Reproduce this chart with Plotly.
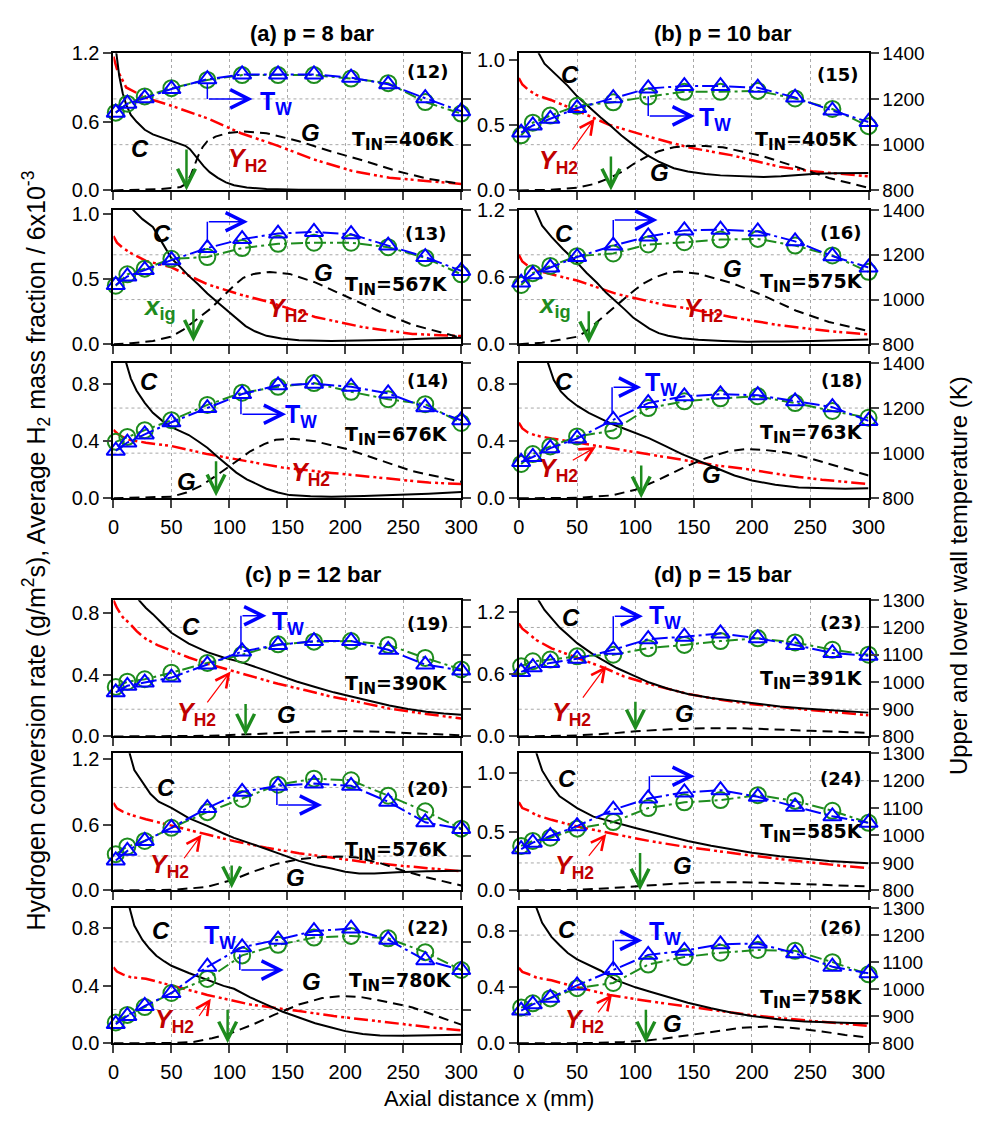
import plotly.graph_objects as go

# ------------------------------------------------------------------ data
X_T = [2, 12, 27, 50, 81, 111, 142, 173, 205, 237, 269, 300]
X_TICKS = [0, 50, 100, 150, 200, 250, 300]

# (12)  p = 8 bar
C12_X = [1, 2.5, 5, 8, 11, 15, 20, 27, 34, 42, 50, 57, 62, 66, 70, 74, 78, 83, 90, 97, 104, 115, 132, 160, 200, 250, 300]
C12_V = [1.6, 1.2, 1.0, 0.85, 0.75, 0.66, 0.6, 0.53, 0.49, 0.46, 0.43, 0.41, 0.39, 0.36, 0.31, 0.26, 0.21, 0.16, 0.11, 0.07, 0.045, 0.025, 0.012, 0.006, 0.004, 0.003, 0.003]
G12_X = [0, 20, 40, 50, 58, 63, 67, 70, 73, 77, 81, 88, 98, 112, 132, 160, 188, 216, 244, 272, 300]
G12_V = [0, 0.003, 0.012, 0.02, 0.03, 0.06, 0.14, 0.22, 0.3, 0.38, 0.43, 0.47, 0.5, 0.515, 0.5, 0.43, 0.34, 0.26, 0.17, 0.1, 0.057]
Y12_X = [0, 3, 11, 28, 50, 81, 110, 142, 173, 206, 238, 270, 300]
Y12_V = [1.17, 1.06, 0.9, 0.81, 0.74, 0.63, 0.5, 0.39, 0.27, 0.17, 0.11, 0.086, 0.057]
TU12 = [1140, 1179, 1203, 1243, 1286, 1307, 1307, 1307, 1293, 1264, 1203, 1146]
TL12 = [1140, 1179, 1211, 1247, 1283, 1304, 1304, 1304, 1289, 1269, 1186, 1136]

# (15)  p = 10 bar
C15_X = [10, 17, 22, 28, 35, 42, 50, 61, 70, 78, 88, 98, 110, 120, 133, 145, 160, 173, 190, 210, 225, 238, 255, 270, 300]
C15_V = [1.25, 1.05, 0.97, 0.92, 0.86, 0.8, 0.72, 0.63, 0.56, 0.5, 0.42, 0.35, 0.27, 0.22, 0.17, 0.145, 0.125, 0.115, 0.108, 0.103, 0.108, 0.118, 0.128, 0.132, 0.133]
G15_X = [0, 25, 50, 65, 78, 90, 98, 110, 120, 133, 145, 160, 175, 190, 210, 238, 266, 300]
G15_V = [0, 0.004, 0.02, 0.05, 0.095, 0.15, 0.2, 0.26, 0.3, 0.33, 0.34, 0.34, 0.33, 0.3, 0.26, 0.18, 0.095, 0.02]
Y15_X = [0, 3, 8, 15, 28, 50, 78, 112, 145, 182, 224, 252, 300]
Y15_V = [0.86, 0.81, 0.77, 0.73, 0.69, 0.61, 0.5, 0.41, 0.33, 0.27, 0.18, 0.146, 0.108]
TU15 = [1053, 1084, 1113, 1160, 1203, 1246, 1256, 1256, 1249, 1206, 1149, 1099]
TL15 = [1041, 1096, 1127, 1170, 1185, 1210, 1231, 1231, 1235, 1202, 1156, 1081]

# (13)
C13_X = [12, 17, 25, 34, 42, 50, 58, 65, 73, 81, 90, 98, 106, 114, 122, 132, 145, 160, 188, 216, 244, 272, 300]
C13_V = [1.2, 1.03, 0.96, 0.9, 0.78, 0.66, 0.59, 0.525, 0.46, 0.39, 0.32, 0.26, 0.2, 0.14, 0.1, 0.065, 0.045, 0.032, 0.025, 0.028, 0.035, 0.045, 0.05]
G13_X = [0, 15, 34, 50, 60, 69, 76, 84, 94, 104, 112, 121, 135, 152, 174, 202, 230, 258, 300]
G13_V = [0, 0.008, 0.025, 0.06, 0.11, 0.175, 0.22, 0.275, 0.36, 0.45, 0.51, 0.54, 0.555, 0.54, 0.475, 0.36, 0.25, 0.15, 0.05]
Y13_X = [0, 3, 8, 15, 28, 50, 81, 110, 132, 174, 216, 258, 300]
Y13_V = [0.83, 0.78, 0.74, 0.7, 0.64, 0.59, 0.46, 0.38, 0.33, 0.21, 0.13, 0.08, 0.063]
TU13 = [1065, 1103, 1132, 1176, 1230, 1270, 1295, 1302, 1292, 1241, 1190, 1128]
TL13 = [1062, 1113, 1138, 1182, 1190, 1230, 1249, 1254, 1254, 1234, 1186, 1113]

# (16)
C16_X = [8, 14, 20, 28, 38, 50, 58, 67, 75, 84, 91, 98, 105, 112, 120, 128, 140, 154, 175, 196, 225, 252, 300]
C16_V = [1.4, 1.2, 1.06, 0.96, 0.85, 0.73, 0.64, 0.55, 0.46, 0.38, 0.31, 0.24, 0.19, 0.14, 0.1, 0.076, 0.055, 0.04, 0.03, 0.024, 0.026, 0.03, 0.044]
G16_X = [0, 20, 35, 50, 57, 64, 74, 84, 92, 100, 108, 117, 127, 137, 154, 182, 210, 238, 266, 300]
G16_V = [0, 0.015, 0.04, 0.068, 0.11, 0.17, 0.26, 0.35, 0.42, 0.49, 0.55, 0.6, 0.635, 0.65, 0.63, 0.55, 0.435, 0.3, 0.2, 0.118]
Y16_X = [0, 3, 8, 15, 28, 50, 84, 126, 145, 182, 224, 266, 300]
Y16_V = [0.8, 0.74, 0.7, 0.66, 0.625, 0.57, 0.45, 0.35, 0.32, 0.244, 0.17, 0.118, 0.088]
TU16 = [1076, 1113, 1143, 1190, 1241, 1282, 1309, 1312, 1304, 1260, 1194, 1143]
TL16 = [1065, 1118, 1150, 1194, 1206, 1246, 1256, 1268, 1271, 1241, 1197, 1124]

# (14)
C14_X = [6, 11, 15, 20, 27, 34, 42, 50, 58, 65, 73, 81, 90, 98, 106, 115, 124, 132, 142, 152, 170, 188, 216, 244, 272, 300]
C14_V = [1.15, 0.95, 0.84, 0.755, 0.67, 0.6, 0.545, 0.5, 0.47, 0.444, 0.4, 0.355, 0.29, 0.233, 0.18, 0.133, 0.095, 0.067, 0.04, 0.022, 0.014, 0.011, 0.015, 0.022, 0.032, 0.044]
G14_X = [0, 25, 50, 63, 76, 87, 98, 108, 118, 130, 140, 155, 174, 202, 230, 258, 300]
G14_V = [0, 0.003, 0.011, 0.04, 0.09, 0.15, 0.21, 0.27, 0.33, 0.38, 0.41, 0.418, 0.4, 0.344, 0.267, 0.19, 0.116]
Y14_X = [0, 4, 8, 14, 28, 50, 81, 118, 146, 188, 230, 272, 300]
Y14_V = [0.48, 0.45, 0.43, 0.41, 0.39, 0.367, 0.31, 0.255, 0.215, 0.178, 0.144, 0.11, 0.1]
TU14 = [1011, 1047, 1083, 1137, 1200, 1262, 1301, 1308, 1294, 1265, 1204, 1146]
TL14 = [1050, 1072, 1102, 1146, 1214, 1268, 1294, 1311, 1272, 1239, 1217, 1134]

# (18)
C18_X = [20, 25, 30, 36, 42, 50, 60, 70, 80, 90, 100, 112, 125, 140, 155, 170, 185, 200, 220, 240, 260, 280, 300]
C18_V = [1.2, 0.95, 0.83, 0.75, 0.7, 0.65, 0.6, 0.56, 0.52, 0.49, 0.46, 0.42, 0.37, 0.31, 0.26, 0.21, 0.16, 0.125, 0.095, 0.075, 0.068, 0.066, 0.07]
G18_X = [0, 50, 80, 100, 120, 140, 160, 180, 195, 210, 230, 250, 275, 300]
G18_V = [0, 0.003, 0.02, 0.06, 0.13, 0.21, 0.28, 0.33, 0.345, 0.34, 0.32, 0.28, 0.22, 0.16]
Y18_X = [0, 3, 8, 15, 28, 50, 80, 110, 140, 170, 200, 230, 260, 300]
Y18_V = [0.53, 0.49, 0.46, 0.44, 0.42, 0.39, 0.35, 0.31, 0.27, 0.23, 0.2, 0.16, 0.13, 0.1]
TU18 = [961, 983, 1022, 1065, 1148, 1222, 1252, 1261, 1257, 1230, 1204, 1143]
TL18 = [952, 996, 1030, 1074, 1100, 1200, 1230, 1243, 1252, 1222, 1187, 1157]

# (19)  p = 12 bar
C19_X = [18, 22, 28, 34, 42, 50, 65, 81, 95, 110, 126, 142, 158, 174, 190, 206, 222, 238, 254, 270, 285, 300]
C19_V = [0.95, 0.88, 0.83, 0.79, 0.73, 0.67, 0.6, 0.545, 0.51, 0.48, 0.44, 0.396, 0.355, 0.32, 0.285, 0.257, 0.228, 0.2, 0.178, 0.16, 0.148, 0.14]
G19_X = [0, 50, 80, 110, 140, 170, 200, 230, 260, 300]
G19_V = [0, 0.001, 0.004, 0.012, 0.024, 0.032, 0.035, 0.03, 0.02, 0.008]
Y19_X = [0, 3, 8, 14, 20, 28, 38, 50, 65, 81, 104, 120, 142, 165, 188, 210, 238, 270, 300]
Y19_V = [0.88, 0.83, 0.77, 0.73, 0.68, 0.63, 0.59, 0.556, 0.51, 0.47, 0.42, 0.385, 0.34, 0.3, 0.257, 0.225, 0.18, 0.145, 0.116]
TU19 = [962, 986, 998, 1016, 1064, 1112, 1136, 1150, 1150, 1118, 1064, 1042]
TL19 = [982, 1001, 1010, 1034, 1070, 1100, 1138, 1148, 1150, 1136, 1088, 1046]

# (23)  p = 15 bar
C23_X = [12, 17, 22, 28, 35, 42, 50, 64, 84, 100, 112, 128, 145, 165, 182, 200, 224, 245, 266, 285, 300]
C23_V = [1.5, 1.31, 1.22, 1.137, 1.05, 0.98, 0.9, 0.79, 0.66, 0.58, 0.52, 0.46, 0.41, 0.37, 0.345, 0.318, 0.29, 0.27, 0.253, 0.24, 0.23]
G23_X = [0, 50, 80, 100, 130, 160, 190, 220, 250, 300]
G23_V = [0, 0.01, 0.03, 0.05, 0.07, 0.08, 0.08, 0.07, 0.055, 0.035]
Y23_X = [0, 3, 8, 15, 28, 40, 50, 73, 90, 112, 145, 170, 196, 225, 252, 275, 300]
Y23_V = [1.09, 1.04, 0.995, 0.93, 0.85, 0.8, 0.758, 0.663, 0.58, 0.505, 0.41, 0.36, 0.316, 0.28, 0.253, 0.23, 0.205]
TU23 = [1037, 1054, 1070, 1085, 1118, 1157, 1166, 1178, 1160, 1136, 1106, 1096]
TL23 = [1058, 1076, 1082, 1094, 1100, 1124, 1136, 1150, 1160, 1145, 1118, 1100]

# (20)
C20_X = [10, 14, 18, 25, 32, 39, 50, 65, 81, 95, 104, 118, 132, 146, 160, 174, 188, 200, 212, 225, 245, 270, 300]
C20_V = [1.5, 1.25, 1.1, 0.994, 0.88, 0.81, 0.754, 0.66, 0.59, 0.52, 0.48, 0.43, 0.38, 0.325, 0.27, 0.23, 0.2, 0.17, 0.155, 0.155, 0.165, 0.175, 0.18]
G20_X = [0, 50, 80, 95, 104, 120, 140, 160, 180, 195, 210, 230, 250, 270, 300]
G20_V = [0, 0.005, 0.03, 0.07, 0.1, 0.17, 0.24, 0.285, 0.305, 0.31, 0.3, 0.25, 0.18, 0.12, 0.045]
Y20_X = [0, 3, 8, 15, 28, 50, 81, 104, 132, 160, 188, 216, 244, 272, 300]
Y20_V = [0.8, 0.75, 0.72, 0.69, 0.65, 0.59, 0.51, 0.45, 0.39, 0.34, 0.3, 0.26, 0.23, 0.2, 0.175]
TU20 = [909, 944, 980, 1028, 1100, 1159, 1181, 1189, 1181, 1123, 1048, 1024]
TL20 = [932, 960, 980, 1028, 1085, 1133, 1185, 1207, 1201, 1145, 1088, 1025]

# (24)
C24_X = [10, 15, 20, 28, 35, 42, 50, 64, 84, 100, 112, 128, 145, 165, 182, 200, 224, 245, 266, 285, 300]
C24_V = [1.4, 1.17, 1.02, 0.89, 0.8, 0.75, 0.7, 0.627, 0.57, 0.53, 0.5, 0.46, 0.42, 0.38, 0.35, 0.32, 0.29, 0.27, 0.25, 0.24, 0.23]
G24_X = [0, 50, 80, 100, 130, 160, 190, 220, 260, 300]
G24_V = [0, 0.005, 0.02, 0.035, 0.055, 0.068, 0.07, 0.062, 0.048, 0.033]
Y24_X = [0, 3, 8, 15, 28, 50, 84, 112, 140, 168, 196, 224, 252, 276, 300]
Y24_V = [0.75, 0.7, 0.68, 0.64, 0.6, 0.544, 0.475, 0.42, 0.375, 0.336, 0.3, 0.267, 0.235, 0.21, 0.19]
TU24 = [950, 974, 998, 1034, 1094, 1135, 1157, 1165, 1141, 1105, 1070, 1046]
TL24 = [962, 980, 992, 1025, 1049, 1100, 1121, 1129, 1147, 1126, 1090, 1046]

# (22)
C22_X = [10, 14, 18, 25, 31, 37, 44, 50, 65, 81, 95, 104, 118, 132, 146, 160, 174, 188, 200, 215, 230, 250, 275, 300]
C22_V = [1.1, 0.94, 0.82, 0.72, 0.66, 0.61, 0.57, 0.54, 0.49, 0.44, 0.4, 0.38, 0.32, 0.27, 0.22, 0.18, 0.14, 0.11, 0.085, 0.065, 0.055, 0.052, 0.055, 0.06]
G22_X = [0, 50, 69, 85, 101, 120, 139, 160, 180, 198, 215, 235, 258, 280, 300]
G22_V = [0, 0.002, 0.01, 0.035, 0.07, 0.13, 0.2, 0.27, 0.315, 0.33, 0.32, 0.29, 0.25, 0.19, 0.13]
Y22_X = [0, 3, 8, 15, 28, 50, 81, 118, 139, 160, 190, 220, 250, 275, 300]
Y22_V = [0.53, 0.5, 0.48, 0.46, 0.45, 0.405, 0.337, 0.27, 0.25, 0.225, 0.19, 0.16, 0.13, 0.11, 0.09]
TU22 = [871, 901, 938, 986, 1083, 1155, 1183, 1215, 1224, 1183, 1107, 1071]
TL22 = [877, 905, 934, 986, 1038, 1125, 1164, 1191, 1197, 1188, 1137, 1071]

# (26)
C26_X = [10, 15, 20, 28, 35, 42, 50, 60, 70, 84, 100, 112, 128, 145, 165, 182, 200, 224, 245, 266, 285, 300]
C26_V = [1.2, 0.97, 0.86, 0.76, 0.7, 0.645, 0.6, 0.56, 0.52, 0.45, 0.4, 0.37, 0.33, 0.29, 0.25, 0.22, 0.195, 0.17, 0.155, 0.148, 0.145, 0.143]
G26_X = [0, 60, 90, 110, 130, 150, 170, 190, 214, 235, 260, 280, 300]
G26_V = [0, 0.002, 0.01, 0.02, 0.04, 0.065, 0.09, 0.11, 0.12, 0.11, 0.085, 0.06, 0.042]
Y26_X = [0, 3, 8, 15, 28, 50, 78, 112, 154, 196, 224, 252, 276, 300]
Y26_V = [0.54, 0.51, 0.495, 0.47, 0.45, 0.4, 0.345, 0.3, 0.252, 0.205, 0.18, 0.16, 0.14, 0.125]
TU26 = [921, 944, 968, 1014, 1071, 1127, 1142, 1166, 1169, 1133, 1083, 1059]
TL26 = [932, 948, 966, 1004, 1023, 1091, 1119, 1135, 1145, 1142, 1100, 1055]

GROUP_TITLES = ["(a) p = 8 bar", "(b) p = 10 bar", "(c) p = 12 bar", "(d) p = 15 bar"]
CASE_IDS = ["(12)", "(15)", "(13)", "(16)", "(14)", "(18)", "(19)", "(23)", "(20)", "(24)", "(22)", "(26)"]
T_IN = ["406", "405", "567", "575", "676", "763", "390", "391", "576", "585", "780", "758"]

# ------------------------------------------------------------------ layout / style
W, H = 992, 1121
ARIAL = "Arial, 'Liberation Sans', sans-serif"
WIDE = "'DejaVu Sans', Arial, sans-serif"
BLUE = "#0000ff"
GREEN = "#1e8c1e"
RED = "#ff0000"
DARKRED = "#c00000"
GRID = "#a8a8a8"

COLS = [(110, 466), (525, 883)]
ROWS = [(43, 183), (203, 340), (359, 497), (601, 740), (757, 897), (915, 1053)]

PANELS = [
    dict(data=(C12_X, C12_V, G12_X, G12_V, Y12_X, Y12_V, TU12, TL12), yr=1.2, yt=[0, 0.6, 1.2],
         lab=(271, 1.04), tin=(250, 0.43), C=(23, 0.37), G=(170, 0.51), Y=(116, 0.27), Yarr=None,
         Tw=(140, 0.76), br=(81, 0.93, 0.8, 120), xig=None, garr=(63, 0.37, 0.0)),
    dict(data=(C15_X, C15_V, G15_X, G15_V, Y15_X, Y15_V, TU15, TL15), yr=1.05, yt=[0, 0.5, 1.0],
         lab=(274, 0.885), tin=(247, 0.38), C=(44, 0.885), G=(121, 0.135), Y=(34, 0.22), Yarr=(45, 0.3, 65, 0.55),
         Tw=(168, 0.55), br=(111, 0.72, 0.57, 151), xig=None, garr=(79, 0.27, 0.0)),
    dict(data=(C13_X, C13_V, G13_X, G13_V, Y13_X, Y13_V, TU13, TL13), yr=1.03, yt=[0, 0.5, 1.0],
         lab=(270, 0.85), tin=(244, 0.45), C=(42, 0.85), G=(181, 0.55), Y=(150, 0.26), Yarr=None,
         Tw=None, br=(81, 0.78, 0.94, 116), xig=(40, 0.28), garr=(69, 0.28, 0.02)),
    dict(data=(C16_X, C16_V, G16_X, G16_V, Y16_X, Y16_V, TU16, TL16), yr=1.2, yt=[0, 0.6, 1.2],
         lab=(276, 1.0), tin=(251, 0.55), C=(39, 0.99), G=(183, 0.68), Y=(158, 0.31), Yarr=None,
         Tw=None, br=(81, 0.93, 1.11, 119), xig=(31, 0.35), garr=(60, 0.31, 0.01)),
    dict(data=(C14_X, C14_V, G14_X, G14_V, Y14_X, Y14_V, TU14, TL14), yr=0.95, yt=[0, 0.4, 0.8],
         lab=(271, 0.83), tin=(244, 0.44), C=(31, 0.82), G=(63, 0.117), Y=(170, 0.17), Yarr=None,
         Tw=(162, 0.58), br=(110, 0.70, 0.59, 149), xig=None, garr=(88.5, 0.27, 0.014)),
    dict(data=(C18_X, C18_V, G18_X, G18_V, Y18_X, Y18_V, TU18, TL18), yr=0.95, yt=[0, 0.4, 0.8],
         lab=(277, 0.83), tin=(251, 0.45), C=(39, 0.82), G=(165, 0.17), Y=(34, 0.2), Yarr=(45, 0.26, 66, 0.36),
         Tw=(122, 0.8), br=(80, 0.6, 0.78, 105), xig=None, garr=(105, 0.24, 0.0)),
    dict(data=(C19_X, C19_V, G19_X, G19_V, Y19_X, Y19_V, TU19, TL19), yr=0.88, yt=[0, 0.4, 0.8],
         lab=(271, 0.73), tin=(244, 0.33), C=(67, 0.71), G=(149, 0.145), Y=(72, 0.145), Yarr=(80, 0.21, 101, 0.42),
         Tw=(151, 0.73), br=(110, 0.56, 0.78, 132), xig=None, garr=(114, 0.22, 0.006)),
    dict(data=(C23_X, C23_V, G23_X, G23_V, Y23_X, Y23_V, TU23, TL23), yr=1.314, yt=[0, 0.6, 1.2],
         lab=(276, 1.1), tin=(251, 0.54), C=(45, 1.15), G=(142, 0.22), Y=(45, 0.22), Yarr=(54, 0.36, 75, 0.68),
         Tw=(125, 1.15), br=(81, 0.9, 1.16, 106.5), xig=None, garr=(100, 0.35, 0.05)),
    dict(data=(C20_X, C20_V, G20_X, G20_V, Y20_X, Y20_V, TU20, TL20), yr=1.254, yt=[0, 0.6, 1.2],
         lab=(271, 0.93), tin=(244, 0.36), C=(45, 0.94), G=(157, 0.12), Y=(48, 0.22), Yarr=(60, 0.28, 76, 0.51),
         Tw=None, br=(141, 0.93, 0.78, 180), xig=None, garr=(102, 0.24, 0.02)),
    dict(data=(C24_X, C24_V, G24_X, G24_V, Y24_X, Y24_V, TU24, TL24), yr=1.167, yt=[0, 0.5, 1.0],
         lab=(276, 0.95), tin=(251, 0.49), C=(41, 0.95), G=(140, 0.21), Y=(48, 0.2), Yarr=(59, 0.28, 75, 0.48),
         Tw=None, br=(112, 0.83, 0.97, 151), xig=None, garr=(104, 0.33, 0.0)),
    dict(data=(C22_X, C22_V, G22_X, G22_V, Y22_X, Y22_V, TU22, TL22), yr=0.942, yt=[0, 0.4, 0.8],
         lab=(271, 0.805), tin=(248, 0.43), C=(41, 0.785), G=(171, 0.43), Y=(53, 0.157), Yarr=(73, 0.18, 84, 0.31),
         Tw=(92, 0.74), br=(109, 0.62, 0.51, 147), xig=None, garr=(98.5, 0.245, 0.0)),
    dict(data=(C26_X, C26_V, G26_X, G26_V, Y26_X, Y26_V, TU26, TL26), yr=0.966, yt=[0, 0.4, 0.8],
         lab=(276, 0.826), tin=(251, 0.32), C=(41, 0.81), G=(131.5, 0.14), Y=(56, 0.16), Yarr=(67, 0.21, 80, 0.35),
         Tw=(125, 0.79), br=(81, 0.55, 0.735, 106), xig=None, garr=(109, 0.25, 0.0)),
]

fig = go.Figure()
layout = dict(width=W, height=H, autosize=False, margin=dict(l=0, r=0, t=0, b=0),
              paper_bgcolor="white", plot_bgcolor="white", showlegend=False,
              font=dict(family=ARIAL, size=20, color="black"))
annotations = []
shapes = []

for k, p in enumerate(PANELS):
    i = k + 1
    r, c = k // 2, k % 2
    xn = "x" if i == 1 else f"x{i}"
    yn = "y" if i == 1 else f"y{i}"
    y2n = f"y{i + 12}"
    x0, x1 = COLS[c]
    t0, t1 = ROWS[r]
    xdom = [x0 / W, x1 / W]
    ydom = [1 - t1 / H, 1 - t0 / H]
    top_group = r < 3
    trange = [800, 1400] if top_group else [800, 1300]
    if top_group:
        tticks = [800, 1000, 1200, 1400]
        gridf = [1 / 3, 2 / 3]
    else:
        tticks = [800, 900, 1000, 1100, 1200, 1300]
        gridf = [0.2, 0.8]
        if c == 0 and r in (4, 5):
            tticks = [925, 1175]
            gridf = [0.25, 0.75]

    layout["xaxis" if i == 1 else f"xaxis{i}"] = dict(
        domain=xdom, anchor=yn, range=[0, 300], tickvals=X_TICKS,
        showticklabels=(r in (2, 5)), ticks="outside", ticklen=8, tickwidth=2,
        ticklabelstandoff=2,
        showline=True, linewidth=2, linecolor="black", mirror=True,
        showgrid=True, gridcolor=GRID, griddash="dot", gridwidth=1, zeroline=False,
        tickfont=dict(size=20, family=ARIAL))
    layout["yaxis" if i == 1 else f"yaxis{i}"] = dict(
        domain=ydom, anchor=xn, range=[0, p["yr"]], tickvals=p["yt"], tickformat=".1f",
        ticks="outside", ticklen=8, tickwidth=2, showline=True, linewidth=2, linecolor="black",
        showgrid=False, zeroline=False, tickfont=dict(size=20, family=ARIAL))
    layout[f"yaxis{i + 12}"] = dict(
        overlaying=yn, side="right", anchor=xn, range=trange, tickvals=tticks,
        showticklabels=(c == 1), ticks="outside", ticklen=8, tickwidth=2,
        showline=True, linewidth=2, linecolor="black", showgrid=False, zeroline=False,
        tickfont=dict(size=19, family=ARIAL))

    for f in gridf:
        shapes.append(dict(type="line", xref=f"{xn} domain", yref=f"{yn} domain", x0=0, x1=1, y0=f, y1=f,
                           line=dict(color=GRID, width=1, dash="dot"), layer="below"))

    cx, cv, gx, gv, yx, yv, tu, tl = p["data"]
    fig.add_trace(go.Scatter(x=yx, y=yv, xaxis=xn, yaxis=yn, mode="lines",
                             line=dict(color=RED, width=2.5, dash="14px,4px,3px,3px,3px,4px"), hoverinfo="skip"))
    fig.add_trace(go.Scatter(x=gx, y=gv, xaxis=xn, yaxis=yn, mode="lines",
                             line=dict(color="black", width=2, dash="10px,6px"), hoverinfo="skip"))
    fig.add_trace(go.Scatter(x=cx, y=cv, xaxis=xn, yaxis=yn, mode="lines",
                             line=dict(color="black", width=2), hoverinfo="skip"))
    fig.add_trace(go.Scatter(x=X_T, y=tl, xaxis=xn, yaxis=y2n, mode="lines+markers", cliponaxis=False,
                             line=dict(color=GREEN, width=2, dash="12px,4px,3px,4px"),
                             marker=dict(symbol="circle-open", size=16, color=GREEN, line=dict(width=2, color=GREEN))))
    fig.add_trace(go.Scatter(x=X_T, y=tu, xaxis=xn, yaxis=y2n, mode="lines+markers", cliponaxis=False,
                             line=dict(color=BLUE, width=2, dash="16px,4px,3px,4px"),
                             marker=dict(symbol="triangle-up-open", size=16, color=BLUE, line=dict(width=2, color=BLUE))))

    def txt(x, y, text, size, color="black", family=ARIAL):
        annotations.append(dict(xref=xn, yref=yn, x=x, y=y, text=text, showarrow=False,
                                xanchor="center", yanchor="middle",
                                font=dict(size=size, color=color, family=family)))

    def arrow(xt, yt, xh, yh, color, width, size):
        annotations.append(dict(xref=xn, yref=yn, axref=xn, ayref=yn, x=xh, y=yh, ax=xt, ay=yt,
                                text="", showarrow=True, arrowhead=5, arrowsize=size,
                                arrowwidth=width, arrowcolor=color, standoff=0, startstandoff=0))

    txt(*p["lab"], f"<b>{CASE_IDS[k]}</b>", 18, family=WIDE)
    txt(*p["tin"], f"<b>T<sub><span style='font-size:15px'>IN</span></sub>={T_IN[k]}K</b>", 19, family=WIDE)
    txt(*p["C"], "<b><i>C</i></b>", 24)
    txt(*p["G"], "<b><i>G</i></b>", 24)
    txt(*p["Y"], "<b><i>Y</i><sub>H2</sub></b>", 25, DARKRED)
    if p["xig"]:
        txt(*p["xig"], "<b><i>x</i><sub>ig</sub></b>", 26, GREEN)
    if p["Tw"]:
        txt(*p["Tw"], "<b>T<sub>W</sub></b>", 25, BLUE)
    if p["Yarr"]:
        xt, yt, xh, yh = p["Yarr"]
        arrow(xt, yt, xh, yh, RED, 1.2, 2.2)
    bx, by0, by1, bx1 = p["br"]
    shapes.append(dict(type="line", xref=xn, yref=yn, x0=bx, x1=bx, y0=by0, y1=by1,
                       line=dict(color=BLUE, width=1.5)))
    arrow(bx, by1, bx1, by1, BLUE, 1.5, 2.4)
    gx0, gy0, gy1 = p["garr"]
    arrow(gx0, gy0, gx0, gy1, GREEN, 2.5, 1.4)

# group titles
for (tx, ty), t in zip([(314, 23), (734, 23), (315, 575), (734, 575)], GROUP_TITLES):
    annotations.append(dict(xref="paper", yref="paper", x=tx / W, y=1 - ty / H, text=f"<b>{t}</b>",
                            showarrow=False, xanchor="center", yanchor="middle",
                            font=dict(size=22, family=ARIAL, color="black")))

annotations.append(dict(xref="paper", yref="paper", x=494 / W, y=1 - 1109 / H, text="Axial distance x (mm)",
                        showarrow=False, xanchor="center", yanchor="middle",
                        font=dict(size=22, family=ARIAL, color="black")))
annotations.append(dict(xref="paper", yref="paper", x=31 / W, y=1 - 550 / H,
                        text="Hydrogen conversion rate (g/m<sup>2</sup>s), Average H<sub>2</sub> mass fraction / 6x10<sup>-3</sup>",
                        showarrow=False, xanchor="center", yanchor="middle", textangle=-90,
                        font=dict(size=25, family=ARIAL, color="black")))
annotations.append(dict(xref="paper", yref="paper", x=975 / W, y=1 - 576 / H,
                        text="Upper and lower wall temperature (K)",
                        showarrow=False, xanchor="center", yanchor="middle", textangle=-90,
                        font=dict(size=24, family=ARIAL, color="black")))

layout["annotations"] = annotations
layout["shapes"] = shapes
fig.update_layout(**layout)
fig.write_html("out.html")
